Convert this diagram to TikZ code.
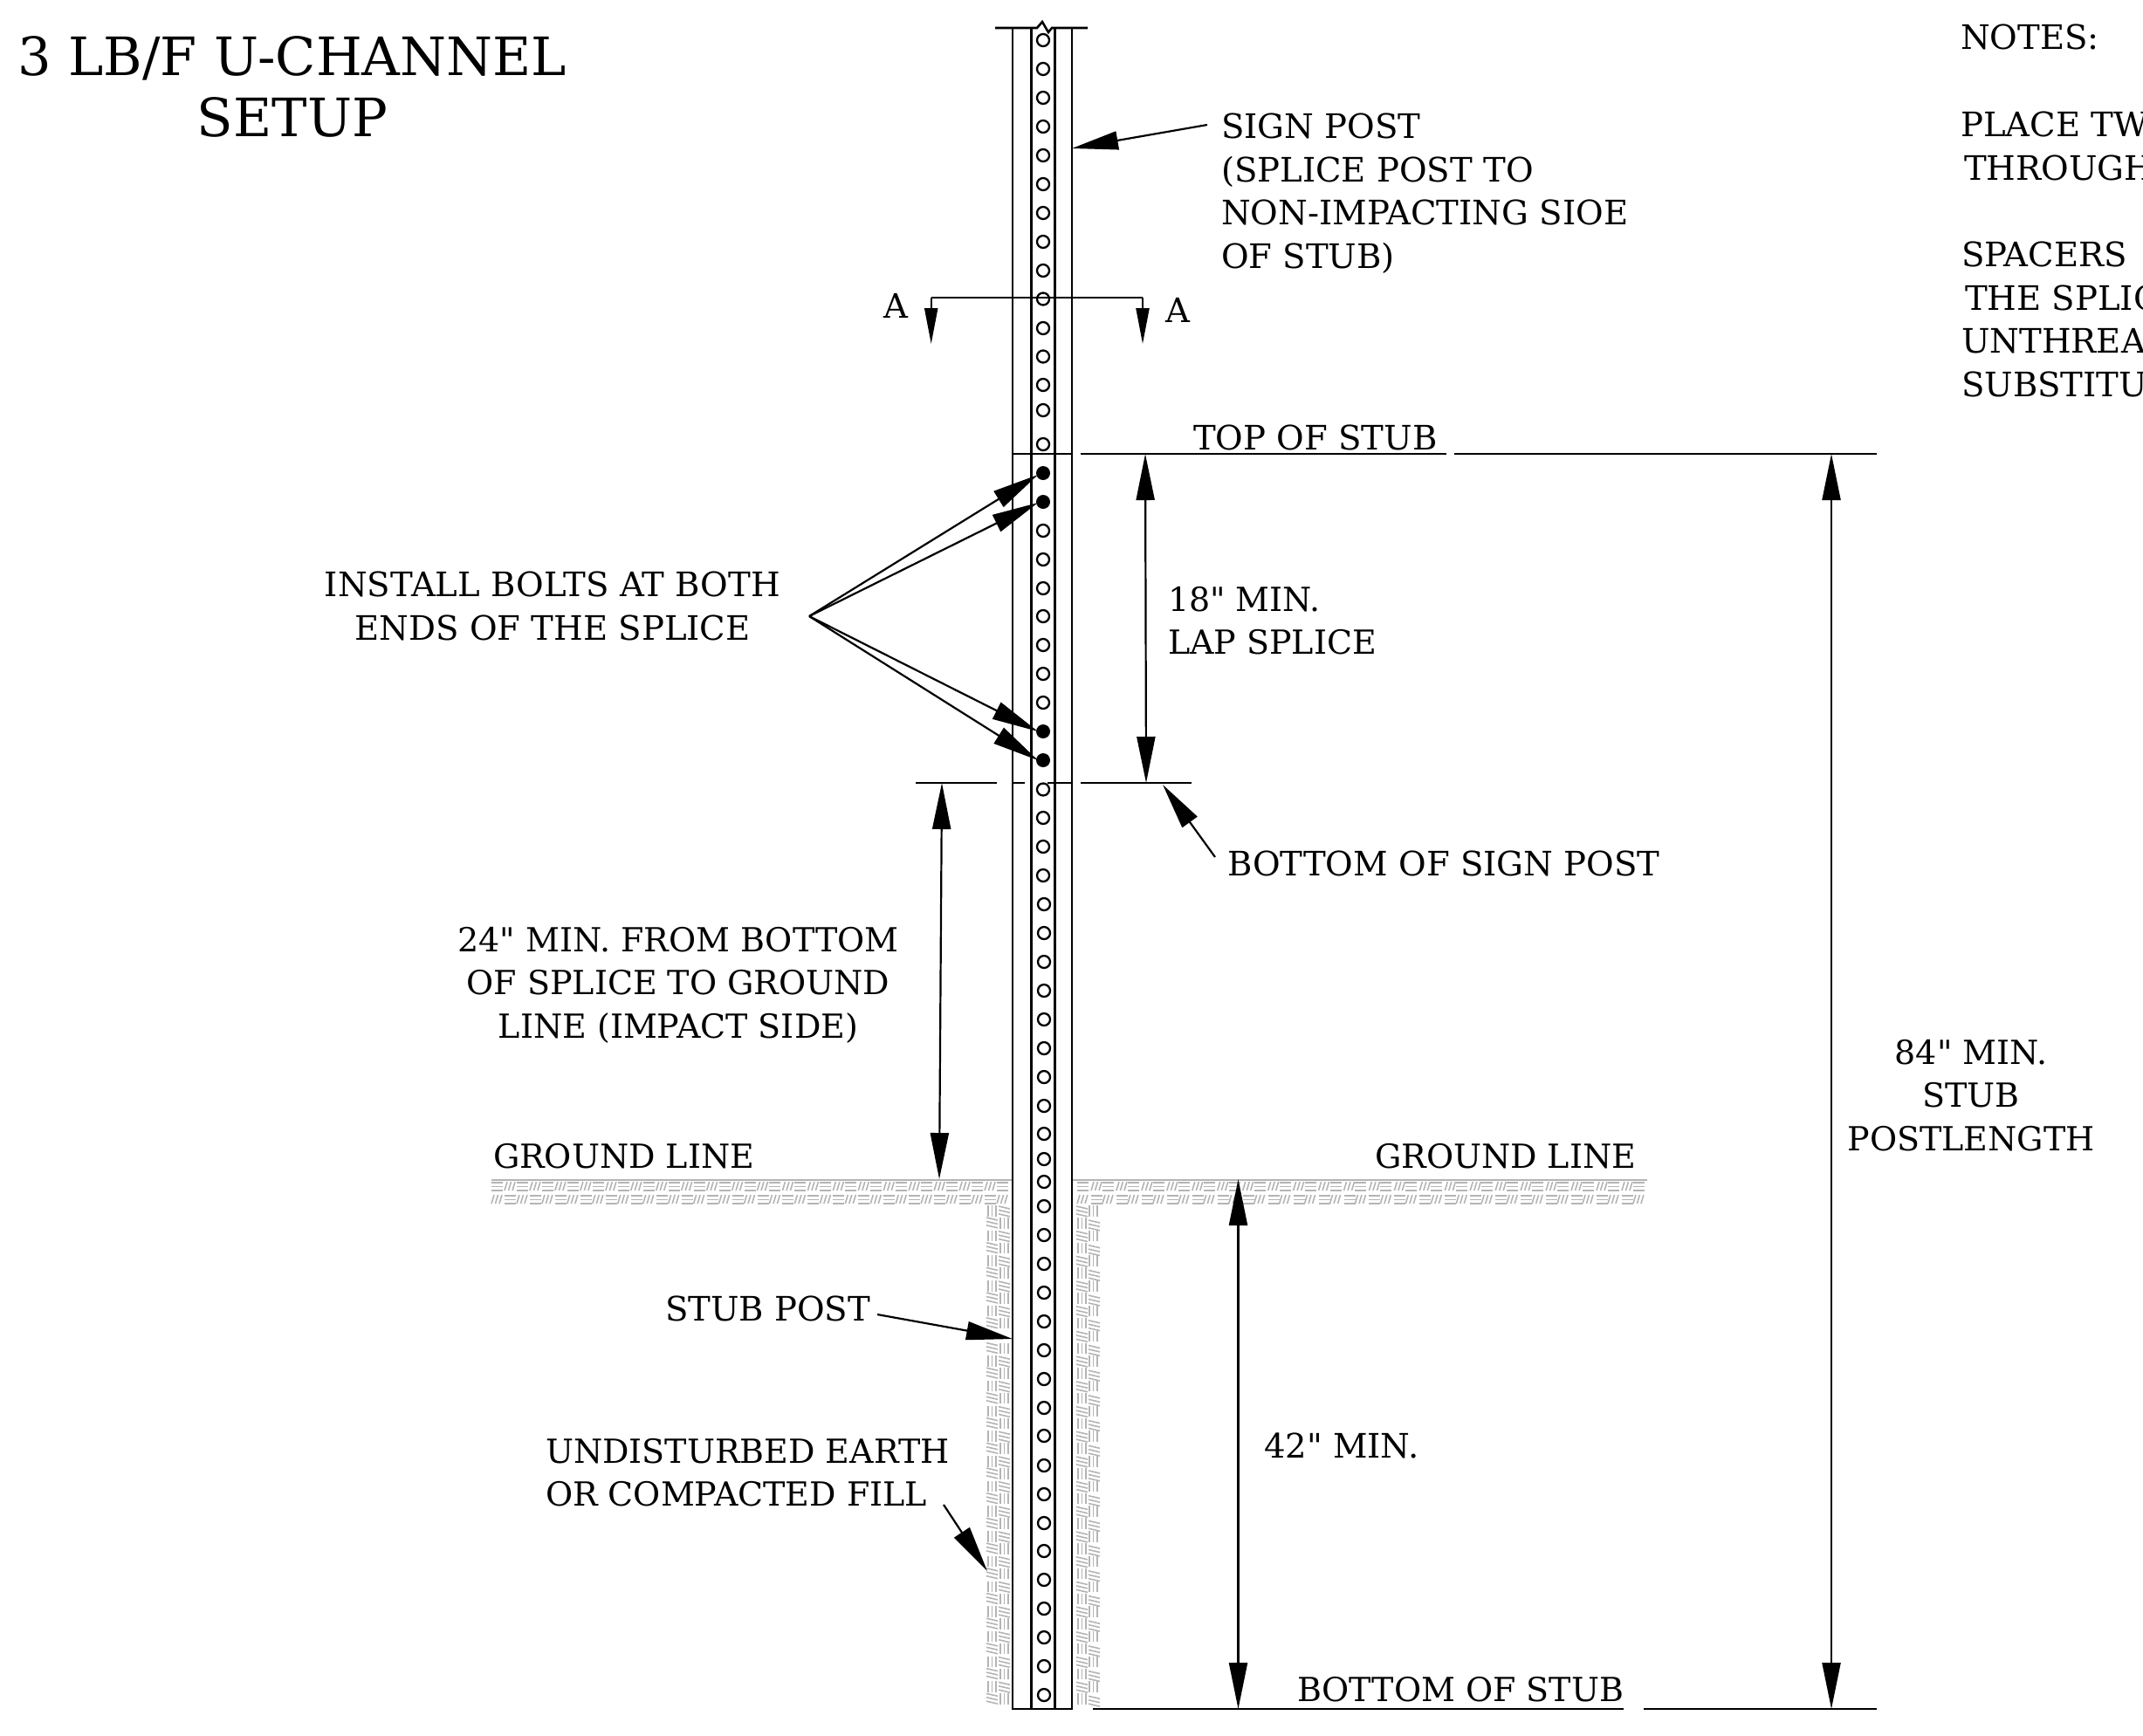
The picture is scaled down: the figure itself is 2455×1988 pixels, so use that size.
\documentclass[tikz,border=0pt]{standalone}
\usepackage{fontspec}
\setmainfont{DejaVu Serif}[Ligatures=TeXOff]
\usetikzlibrary{arrows.meta}
\definecolor{hatchgrey}{HTML}{B4B4B4}
\tikzset{
  txt/.style={inner sep=0pt,outer sep=0pt,anchor=north west,align=left,font=\fontsize{19.3}{24.8}\selectfont},
  ctxt/.style={txt,anchor=north,align=center},
  smalltxt/.style={font=\fontsize{19}{24.8}\selectfont},
  titletxt/.style={inner sep=0pt,outer sep=0pt,anchor=north,align=center,font=\fontsize{30.3}{35}\selectfont},
  postline/.style={line width=1.3pt,black},
  thinline/.style={line width=1pt,black},
  leader/.style={line width=1.1pt,black,-{Triangle[length=26.5pt,width=10.5pt,sep=0pt]}},
  dimline/.style={line width=1.1pt,black,{Triangle[length=26.5pt,width=10.5pt,sep=0pt]}-{Triangle[length=26.5pt,width=10.5pt,sep=0pt]}},
  secarrow/.style={line width=1.1pt,black,-{Triangle[length=20.5pt,width=7.5pt,sep=0pt]}},
  holestyle/.style={circle,draw=black,line width=1.15pt,fill=white,minimum size=7pt,inner sep=0pt},
  boltstyle/.style={circle,fill=black,minimum size=8pt,inner sep=0pt},
  hatch/.style={line width=.8pt,hatchgrey},
}
% ground strip cells: three horizontal strokes, three slanted strokes
\newcommand{\gridEq}[2]{\draw[hatch] (#1,#2) -- ++(13,0) (#1,#2+4.6) -- ++(13,0) (#1,#2+9.2) -- ++(13,0);}
\newcommand{\gridSl}[2]{\draw[hatch] (#1,#2+10) -- ++(3,-10) (#1+4.5,#2+10) -- ++(3,-10) (#1+9,#2+10) -- ++(3,-10);}
% side strip cells: three tilted strokes, three vertical strokes
\newcommand{\sideEq}[2]{\draw[hatch] (#1,#2) -- ++(13,3) (#1,#2+4.4) -- ++(13,3) (#1,#2+8.8) -- ++(13,3);}
\newcommand{\sideVt}[2]{\draw[hatch] (#1,#2) -- ++(0,12.5) (#1+4.4,#2) -- ++(0,12.5) (#1+8.8,#2) -- ++(0,12.5);}
\begin{document}
\begin{tikzpicture}[x=0.5pt,y=-0.5pt]
\useasboundingbox (0,0) rectangle (2455,1988);
\clip (0,0) rectangle (2455,1988);
% ---- earth hatching
\foreach \k in {0,...,20}{
  \pgfmathsetmacro{\xa}{563+28.95*\k}
  \gridEq{\xa}{1355}\gridSl{\xa}{1369}
}
\foreach \k in {0,...,19}{
  \pgfmathsetmacro{\xa}{578+28.95*\k}
  \gridSl{\xa}{1354}\gridEq{\xa}{1370}
}
\foreach \k in {0,...,22}{
  \pgfmathsetmacro{\xa}{1234+28.95*\k}
  \gridEq{\xa}{1355}\gridSl{\xa}{1369}
}
\foreach \k in {0,...,21}{
  \pgfmathsetmacro{\xa}{1250+28.95*\k}
  \gridSl{\xa}{1354}\gridEq{\xa}{1370}
}
\foreach \k in {0,...,19}{
  \pgfmathsetmacro{\ya}{1381+28.7*\k}
  \pgfmathsetmacro{\yb}{1395+28.7*\k}
  \sideVt{1132}{\ya}\sideEq{1130}{\yb}
  \sideEq{1144}{\ya+1}\sideVt{1146}{\yb}
  \sideEq{1233}{\ya+1}\sideVt{1235}{\yb}
  \sideVt{1248}{\ya}\sideEq{1247}{\yb+3}
}
\fill[white] (1100,1524) rectangle (1158.5,1538);
\fill[white] (1125,1956) rectangle (1265,1988);
\draw[line width=1pt,hatchgrey] (563,1351.5) -- (1160,1351.5) (1228,1351.5) -- (1887,1351.5);
% ---- post
\draw[postline] (1160,32) -- (1160,1958) -- (1228,1958) -- (1228,32);
\draw[line width=1.5pt] (1181,32) -- (1181,1958) (1208,32) -- (1208,1958);
\foreach \i/\y in {a/46,b/79,c/112,d/145,e/178,f/211,g/244,h/277,i/310,j/342.5,k/376,l/408.5,m/441,n/470,o/509,
  p/608,q/641,r/674,s/706,t/739,u/772,v/805,w/904.5,x/937,y/970,z/1003}
  \node[holestyle] (hole\i) at (1195,\y) {};
\foreach \i/\y in {1/1036,2/1069,3/1102,4/1135,5/1168,6/1201,7/1234,8/1267,9/1299,10/1328,11/1354,12/1382,13/1415,14/1448,15/1481,16/1514,17/1547,18/1580,19/1613,20/1645,21/1679,22/1712,23/1745,24/1777,25/1810,26/1843,27/1876,28/1909,29/1942}
  \node[holestyle] (low\i) at (1196,\y) {};
\node[boltstyle] (bolta) at (1195,542) {};
\node[boltstyle] (boltb) at (1195,575) {};
\node[boltstyle] (boltc) at (1195,838) {};
\node[boltstyle] (boltd) at (1195,871) {};
\fill[white] (1188,20) rectangle (1205,33);
\draw[postline] (1140,32) -- (1188,32) -- (1194,25) -- (1201,37) -- (1205,32) -- (1246,32);
% ---- level lines
\draw[thinline] (1160,520) -- (1228,520) (1238,520) -- (1657,520) (1666,520) -- (2150,520);
\draw[thinline] (1049,897) -- (1142,897) (1160,897) -- (1174,897) (1200,897) -- (1228,897) (1238,897) -- (1365,897);
\draw[thinline] (1252,1958) -- (1860,1958) (1883,1958) -- (2150,1958);
% ---- section A-A
\coordinate (secl) at (1066.7,394);
\coordinate (secr) at (1309,394);
\coordinate (secla) at (1066.7,340.5);
\coordinate (secra) at (1309,340.5);
\draw[thinline] (secla) -- (secra);
\draw[secarrow] (secla) -- (secl);
\draw[secarrow] (secra) -- (secr);
% ---- dimensions
\coordinate (d18t) at (1312,520); \coordinate (d18b) at (1313,897);
\coordinate (d24t) at (1079,897); \coordinate (d24b) at (1076,1351);
\coordinate (d42t) at (1418.5,1351); \coordinate (d42b) at (1418.5,1958);
\coordinate (d84t) at (2098,520); \coordinate (d84b) at (2098,1958);
\draw[dimline] (d18t) -- (d18b);
\draw[dimline] (d24t) -- (d24b);
\draw[dimline] (d42t) -- (d42b);
\draw[dimline] (d84t) -- (d84b);
% ---- texts
\node[titletxt] (title) at (335,42) {3 LB/F U-CHANNEL\\[0pt]SETUP};
\node[txt] (notes) at (2246,28) {NOTES:};
\node[txt] (noteone) at (2246,128) {PLACE TW\\\hspace{2pt}THROUGH};
\node[txt] (notetwo) at (2247,277) {SPACERS\\\hspace{2pt}THE SPLIC\\UNTHREAD\\SUBSTITU};
\node[txt] (signpost) at (1399,130) {SIGN POST\\(SPLICE POST TO\\NON-IMPACTING SIOE\\OF STUB)};
\node[txt] (aleft) at (1012,336) {A};
\node[txt] (aright) at (1335,341) {A};
\node[txt] (topstub) at (1367,487) {TOP OF STUB};
\node[ctxt] (install) at (633,655) {INSTALL BOLTS AT BOTH\\ENDS OF THE SPLICE};
\node[txt,smalltxt] (lap) at (1338,672) {18" MIN.\\LAP SPLICE};
\node[txt] (botsign) at (1406,975) {BOTTOM OF SIGN POST};
\node[ctxt,smalltxt] (min24) at (777,1062) {24" MIN. FROM BOTTOM\\OF SPLICE TO GROUND\\LINE (IMPACT SIDE)};
\node[ctxt,smalltxt] (min84) at (2258,1191) {84" MIN.\\STUB\\POSTLENGTH};
\node[txt,smalltxt] (gleft) at (565,1310) {GROUND LINE};
\node[txt,smalltxt] (gright) at (1575,1310) {GROUND LINE};
\node[txt] (stub) at (762,1485) {STUB POST};
\node[txt,smalltxt] (earth) at (625,1648) {UNDISTURBED EARTH\\OR COMPACTED FILL};
\node[txt] (min42) at (1448,1642) {42" MIN.};
\node[txt,smalltxt] (botstub) at (1486,1921) {BOTTOM OF STUB};
% ---- leaders
\coordinate (signtail) at (1383,143); \coordinate (signtip) at (1228,170);
\coordinate (stubtail) at (1005,1506); \coordinate (stubtip) at (1160,1534);
\coordinate (earthtail) at (1081,1724); \coordinate (earthtip) at (1131,1800);
\coordinate (bsptail) at (1392,982); \coordinate (bsptip) at (1332,899);
\coordinate (fan) at (927,706);
\coordinate (tipa) at (1189,544); \coordinate (tipb) at (1189,576);
\coordinate (tipc) at (1189,838); \coordinate (tipd) at (1189,871);
\draw[leader] (signtail) -- (signtip);
\draw[leader] (stubtail) -- (stubtip);
\draw[leader] (earthtail) -- (earthtip);
\draw[leader] (bsptail) -- (bsptip);
\draw[leader] (fan) -- (tipa);
\draw[leader] (fan) -- (tipb);
\draw[leader] (fan) -- (tipc);
\draw[leader] (fan) -- (tipd);
\end{tikzpicture}
\end{document}
